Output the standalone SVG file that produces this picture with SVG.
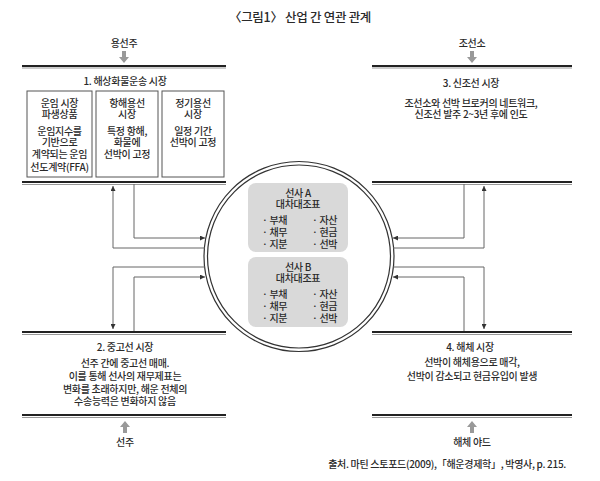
<svg xmlns="http://www.w3.org/2000/svg" width="600" height="481" viewBox="0 0 600 481">
<defs>
<style>
text{font-family:"Noto Sans CJK KR","Noto Sans",sans-serif;fill:#2a2a2a;text-anchor:middle;font-weight:500;}
.t{font-size:10px;letter-spacing:-0.3px;}
.title{font-size:12.5px;letter-spacing:-0.3px;}
.src{font-size:10px;text-anchor:end;letter-spacing:-0.3px;}
.rule{stroke:#222;stroke-width:2.2;fill:none;}
.rule2{stroke:#999;stroke-width:1;fill:none;}
.box{fill:#fff;stroke:#555;stroke-width:1;}
.gbox{fill:#d9d9d9;stroke:none;}
.ring{fill:none;stroke:#333;stroke-width:1.2;}
.conn{fill:none;stroke:#666;stroke-width:1;}
.garrow{fill:#999;}
.l{text-anchor:start;}
</style>
<marker id="ah" viewBox="0 0 6 6" refX="6" refY="3" markerWidth="6" markerHeight="5" orient="auto" markerUnits="userSpaceOnUse">
<path d="M0,0 L6,3 L0,6 z" fill="#333"/>
</marker>
</defs>
<rect width="600" height="481" fill="#fff"/>

<g id="title"><text class="title" x="300" y="22">〈그림1〉 산업 간 연관 관계</text></g>

<g id="sec1">
<text class="t" x="124" y="47">용선주</text>
<polygon class="garrow" points="122,51 126,51 126,57 129,57 124,63 119,57 122,57"/>
<line class="rule" x1="22" y1="66" x2="226" y2="66"/>
<line class="rule2" x1="22" y1="68" x2="226" y2="68"/>
<text class="t" x="125" y="85">1. 해상화물운송 시장</text>
<rect class="box" x="27" y="91" width="65" height="86"/>
<rect class="box" x="96" y="91" width="62" height="86"/>
<rect class="box" x="162" y="91" width="62" height="86"/>
<text class="t" x="59.5" y="107">운임 시장</text>
<text class="t" x="59.5" y="118">파생상품</text>
<text class="t" x="59.5" y="135">운임지수를</text>
<text class="t" x="59.5" y="146">기반으로</text>
<text class="t" x="59.5" y="158">계약되는 운임</text>
<text class="t" x="59.5" y="171">선도계약(FFA)</text>
<text class="t" x="127" y="107">항해용선</text>
<text class="t" x="127" y="118">시장</text>
<text class="t" x="127" y="135">특정 항해,</text>
<text class="t" x="127" y="146">화물에</text>
<text class="t" x="127" y="158">선박이 고정</text>
<text class="t" x="193" y="107">정기용선</text>
<text class="t" x="193" y="118">시장</text>
<text class="t" x="193" y="135">일정 기간</text>
<text class="t" x="193" y="146">선박이 고정</text>
<line class="rule" x1="22" y1="182" x2="226" y2="182"/>
<line class="rule2" x1="22" y1="184.5" x2="226" y2="184.5"/>
</g>

<g id="sec3">
<text class="t" x="472" y="47">조선소</text>
<polygon class="garrow" points="470,51 474,51 474,57 477,57 472,63 467,57 470,57"/>
<line class="rule" x1="372" y1="66" x2="572" y2="66"/>
<line class="rule2" x1="372" y1="68" x2="572" y2="68"/>
<text class="t" x="471" y="87">3. 신조선 시장</text>
<text class="t" x="471" y="107">조선소와 선박 브로커의 네트워크,</text>
<text class="t" x="471" y="118">신조선 발주 2~3년 후에 인도</text>
<line class="rule" x1="372" y1="182" x2="572" y2="182"/>
<line class="rule2" x1="372" y1="184.5" x2="572" y2="184.5"/>
</g>

<g id="sec2">
<line class="rule" x1="22" y1="332" x2="226" y2="332"/>
<line class="rule2" x1="22" y1="334.5" x2="226" y2="334.5"/>
<text class="t" x="125" y="351">2. 중고선 시장</text>
<text class="t" x="125" y="367">선주 간에 중고선 매매.</text>
<text class="t" x="125" y="380">이를 통해 선사의 재무제표는</text>
<text class="t" x="125" y="393">변화를 초래하지만, 해운 전체의</text>
<text class="t" x="125" y="405">수송능력은 변화하지 않음</text>
<line class="rule" x1="22" y1="415" x2="226" y2="415"/>
<line class="rule2" x1="22" y1="417.5" x2="226" y2="417.5"/>
<polygon class="garrow" points="125,421 130,427 127,427 127,433 123,433 123,427 120,427"/>
<text class="t" x="125" y="446">선주</text>
</g>

<g id="sec4">
<line class="rule" x1="372" y1="332" x2="572" y2="332"/>
<line class="rule2" x1="372" y1="334.5" x2="572" y2="334.5"/>
<text class="t" x="470" y="351">4. 해체 시장</text>
<text class="t" x="472" y="366">선박이 해체용으로 매각,</text>
<text class="t" x="472" y="380">선박이 감소되고 현금유입이 발생</text>
<line class="rule" x1="372" y1="415" x2="572" y2="415"/>
<line class="rule2" x1="372" y1="417.5" x2="572" y2="417.5"/>
<polygon class="garrow" points="472,421 477,427 474,427 474,433 470,433 470,427 467,427"/>
<text class="t" x="472" y="446">해체 야드</text>
</g>

<g id="center">
<circle class="ring" cx="299" cy="256.5" r="95"/>
<circle class="ring" cx="299" cy="256.5" r="91.5"/>
<g id="shipA">
<rect class="gbox" x="248" y="183" width="100" height="69" rx="8"/>
<text class="t" x="298" y="197">선사 A</text>
<text class="t" x="298" y="208">대차대조표</text>
<text class="t l" x="262" y="224">· 부채</text>
<text class="t l" x="262" y="236">· 채무</text>
<text class="t l" x="262" y="248">· 지분</text>
<text class="t l" x="312" y="224">· 자산</text>
<text class="t l" x="312" y="236">· 현금</text>
<text class="t l" x="312" y="248">· 선박</text>
</g>
<g id="shipB">
<rect class="gbox" x="248" y="257" width="100" height="70" rx="8"/>
<text class="t" x="298" y="271">선사 B</text>
<text class="t" x="298" y="282">대차대조표</text>
<text class="t l" x="262" y="298">· 부채</text>
<text class="t l" x="262" y="310">· 채무</text>
<text class="t l" x="262" y="322">· 지분</text>
<text class="t l" x="312" y="298">· 자산</text>
<text class="t l" x="312" y="310">· 현금</text>
<text class="t l" x="312" y="322">· 선박</text>
</g>
</g>

<g id="connectors">
<path class="conn" d="M205,248 H113 V186" marker-end="url(#ah)"/>
<path class="conn" d="M134,184 V238 H205" marker-end="url(#ah)"/>
<path class="conn" d="M205,267 H113 V329" marker-end="url(#ah)"/>
<path class="conn" d="M134,331 V277 H205" marker-end="url(#ah)"/>
<path class="conn" d="M464,184 V238 H393" marker-end="url(#ah)"/>
<path class="conn" d="M393,248 H484 V186" marker-end="url(#ah)"/>
<path class="conn" d="M393,267 H484 V329" marker-end="url(#ah)"/>
<path class="conn" d="M464,331 V277 H393" marker-end="url(#ah)"/>
</g>

<g id="source"><text class="src" x="566" y="468">출처. 마틴 스토포드(2009),「해운경제학」, 박영사, p. 215.</text></g>
</svg>
